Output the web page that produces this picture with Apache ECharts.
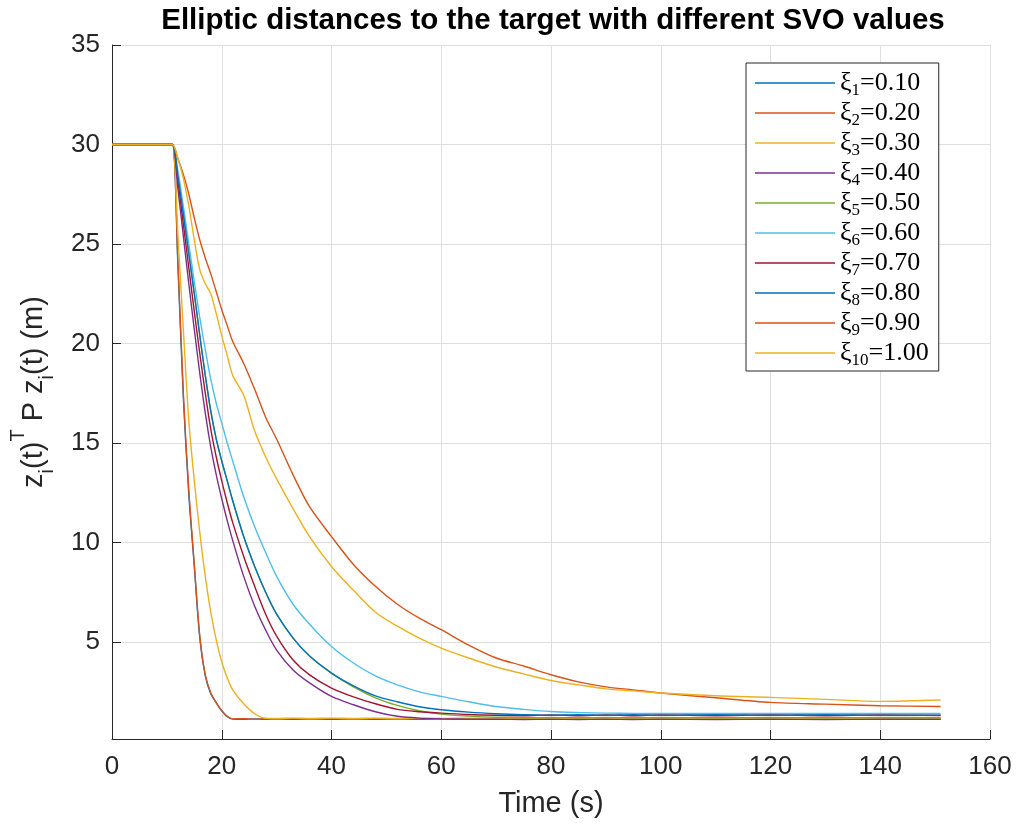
<!DOCTYPE html>
<html>
<head>
<meta charset="utf-8">
<script src="https://cdn.jsdelivr.net/npm/echarts@6/dist/echarts.min.js"></script>
<style>
html,body{margin:0;padding:0;background:#fff;}
#chart{width:1017px;height:825px;}
</style>
</head>
<body>
<div id="chart"></div>
<script>
// time samples (s)
const time = [0, 10, 11, 12, 13, 14, 15, 16, 17, 18, 19, 20, 21, 22, 24, 26, 28, 30, 33, 36, 40, 44, 48, 52, 56, 60, 65, 70, 75, 80, 85, 90, 95, 100, 110, 120, 130, 140, 151];

const svoValues = ['0.10', '0.20', '0.30', '0.40', '0.50', '0.60', '0.70', '0.80', '0.90', '1.00'];

const xi1 = [30, 30, 30, 24.0, 17.3, 12.4, 8.8, 5.2, 3.3, 2.4, 1.95, 1.55, 1.25, 1.13, 1.12, 1.14, 1.12, 1.14, 1.12, 1.14, 1.12, 1.14, 1.12, 1.14, 1.12, 1.14, 1.12, 1.14, 1.12, 1.14, 1.12, 1.14, 1.12, 1.14, 1.12, 1.14, 1.12, 1.14, 1.13];
const xi2 = [30, 30, 30, 24.2, 17.5, 12.6, 8.9, 5.3, 3.35, 2.45, 1.95, 1.55, 1.27, 1.14, 1.15, 1.13, 1.15, 1.13, 1.15, 1.13, 1.15, 1.13, 1.15, 1.13, 1.15, 1.13, 1.15, 1.13, 1.15, 1.13, 1.15, 1.13, 1.15, 1.13, 1.15, 1.13, 1.15, 1.13, 1.14];
const xi3 = [30, 30, 30, 25.5, 20.7, 16.1, 13.1, 10.5, 8.3, 6.5, 5.1, 4.0, 3.2, 2.6, 1.9, 1.4, 1.17, 1.16, 1.18, 1.16, 1.18, 1.16, 1.18, 1.16, 1.18, 1.16, 1.18, 1.16, 1.18, 1.16, 1.18, 1.16, 1.18, 1.16, 1.18, 1.16, 1.18, 1.16, 1.17];
const xi4 = [30, 30, 30, 27.8, 25.4, 23.0, 20.7, 18.5, 16.5, 14.8, 13.4, 12.2, 11.1, 10.1, 8.3, 6.8, 5.6, 4.6, 3.6, 2.95, 2.27, 1.85, 1.5, 1.27, 1.18, 1.15, 1.13, 1.12, 1.11, 1.12, 1.11, 1.12, 1.11, 1.12, 1.11, 1.12, 1.11, 1.12, 1.12];
const xi5 = [30, 30, 30, 28.4, 26.5, 24.5, 22.5, 20.4, 18.4, 16.6, 15.2, 14.1, 13.1, 12.1, 10.3, 8.8, 7.5, 6.4, 5.2, 4.3, 3.44, 2.75, 2.2, 1.82, 1.55, 1.38, 1.28, 1.22, 1.2, 1.21, 1.2, 1.21, 1.2, 1.21, 1.2, 1.21, 1.2, 1.21, 1.2];
const xi6 = [30, 30, 30, 28.7, 26.9, 25.0, 23.1, 21.3, 19.7, 18.2, 17.0, 16.0, 15.0, 14.1, 12.3, 10.8, 9.5, 8.3, 6.9, 5.9, 4.78, 3.95, 3.3, 2.85, 2.5, 2.27, 2.0, 1.76, 1.62, 1.51, 1.46, 1.43, 1.42, 1.42, 1.41, 1.42, 1.41, 1.42, 1.41];
const xi7 = [30, 30, 30, 28.2, 26.0, 23.8, 21.6, 19.5, 17.5, 15.7, 14.3, 13.1, 12.0, 11.0, 9.3, 7.8, 6.4, 5.3, 4.1, 3.35, 2.69, 2.25, 1.9, 1.62, 1.5, 1.43, 1.36, 1.32, 1.3, 1.34, 1.3, 1.34, 1.3, 1.34, 1.3, 1.34, 1.3, 1.34, 1.31];
const xi8 = [30, 30, 30, 28.4, 26.5, 24.5, 22.5, 20.4, 18.4, 16.6, 15.2, 14.1, 13.1, 12.1, 10.3, 8.8, 7.5, 6.4, 5.2, 4.3, 3.44, 2.8, 2.3, 2.0, 1.75, 1.6, 1.48, 1.4, 1.35, 1.32, 1.35, 1.32, 1.35, 1.32, 1.35, 1.32, 1.35, 1.32, 1.33];
const xi9 = [30, 30, 30, 29.3, 28.5, 27.5, 26.3, 25.2, 24.3, 23.5, 22.6, 21.7, 20.9, 20.1, 19.0, 17.7, 16.3, 15.2, 13.4, 11.8, 10.3, 8.9, 7.8, 6.9, 6.2, 5.62, 4.85, 4.2, 3.8, 3.36, 3.0, 2.75, 2.6, 2.44, 2.2, 1.97, 1.88, 1.8, 1.76];
const xi10 = [30, 30, 30, 29.3, 28.3, 26.9, 25.2, 23.7, 23.0, 22.5, 21.5, 20.4, 19.4, 18.4, 17.4, 15.6, 14.3, 13.2, 11.7, 10.3, 8.8, 7.6, 6.5, 5.8, 5.2, 4.7, 4.2, 3.75, 3.4, 3.07, 2.85, 2.65, 2.55, 2.44, 2.3, 2.22, 2.12, 2.02, 2.09];

const seriesValues = [xi1, xi2, xi3, xi4, xi5, xi6, xi7, xi8, xi9, xi10];
const colors = ['#0072BD', '#D95319', '#EDB120', '#7E2F8E', '#77AC30', '#4DBEEE', '#A2142F', '#0072BD', '#D95319', '#EDB120'];

const xTicks = [0, 20, 40, 60, 80, 100, 120, 140, 160];
const yTicks = [5, 10, 15, 20, 25, 30, 35];

const axisColor = '#262626';
const gridColor = '#dfdfdf';
const sans = 'Liberation Sans, Arial, sans-serif';
const serif = 'Liberation Serif, serif';

const series = seriesValues.map(function (vals, i) {
  return {
    name: 'xi' + (i + 1) + '=' + svoValues[i],
    type: 'line',
    symbol: 'none',
    smooth: 0.3,
    lineStyle: { width: 1.4, color: colors[i] },
    itemStyle: { color: colors[i] },
    data: time.map(function (t, k) { return [t, vals[k]]; })
  };
});

const chart = echarts.init(document.getElementById('chart'), null, { renderer: 'canvas' });
chart.setOption({
  animation: false,
  backgroundColor: '#fff',
  title: {
    text: 'Elliptic distances to the target with different SVO values',
    left: 548,
    textAlign: 'center',
    top: 1,
    textStyle: { fontFamily: sans, fontWeight: 'bold', fontSize: 29.5, color: '#000' }
  },
  grid: { left: 110, right: 27, top: 45, bottom: 86, containLabel: false },
  legend: {
    orient: 'vertical',
    left: 746,
    top: 63,
    padding: [7, 10, 2, 9],
    icon: 'path://M0,0 L160,0 L160,3 L0,3 Z',
    itemWidth: 80,
    itemHeight: 1.5,
    itemGap: 1,
    backgroundColor: '#fff',
    borderColor: axisColor,
    borderWidth: 1,
    borderRadius: 0,
    data: series.map(function (s) { return s.name; }),
    formatter: function (name) {
      const m = name.match(/^xi(\d+)=(.*)$/);
      return '{g|ξ}{s|' + m[1] + '}{g|=' + m[2] + '}';
    },
    textStyle: {
      fontFamily: serif,
      fontSize: 26,
      lineHeight: 22,
      color: '#000',
      rich: {
        g: { fontFamily: serif, fontSize: 26, lineHeight: 22, color: '#000' },
        s: { fontFamily: serif, fontSize: 17, lineHeight: 22, color: '#000', verticalAlign: 'bottom', padding: [0, 0, -5, 0] }
      }
    }
  },
  xAxis: {
    type: 'value',
    min: 0,
    max: 160,
    interval: 20,
    name: 'Time (s)',
    nameLocation: 'middle',
    nameGap: 50,
    nameTextStyle: { fontFamily: sans, fontSize: 29, color: axisColor },
    axisLine: { show: true, onZero: false, lineStyle: { color: axisColor, width: 1 } },
    axisTick: { show: true, inside: true, length: 9, lineStyle: { color: axisColor, width: 1 } },
    axisLabel: {
      margin: 15,
      fontFamily: sans, fontSize: 26, color: axisColor,
      formatter: function (v) { return xTicks.indexOf(v) >= 0 ? String(v) : ''; }
    },
    splitLine: { show: true, lineStyle: { color: gridColor, width: 1 } }
  },
  yAxis: {
    type: 'value',
    min: 0.13,
    max: 35,
    splitNumber: 7,
    minInterval: 5,
    maxInterval: 5,
    name: 'z{sub|i}(t){sup|T} P z{sub|i}(t) (m)',
    nameLocation: 'middle',
    nameRotate: 90,
    nameGap: 52,
    nameTextStyle: {
      fontFamily: sans, fontSize: 29, color: axisColor, lineHeight: 52,
      rich: {
        sub: { fontFamily: sans, fontSize: 20, color: axisColor, verticalAlign: 'bottom', lineHeight: 52, padding: [0, 0, 3, 0] },
        sup: { fontFamily: sans, fontSize: 20, color: axisColor, verticalAlign: 'top', lineHeight: 52 }
      }
    },
    axisLine: { show: true, onZero: false, lineStyle: { color: axisColor, width: 1 } },
    axisTick: { show: true, inside: true, length: 9, lineStyle: { color: axisColor, width: 1 } },
    axisLabel: {
      margin: 12,
      fontFamily: sans, fontSize: 26, color: axisColor,
      formatter: function (v) {
        const r = Math.round(v);
        return (Math.abs(v - r) < 1e-6 && yTicks.indexOf(r) >= 0) ? String(r) : '';
      }
    },
    splitLine: { show: true, lineStyle: { color: gridColor, width: 1 } }
  },
  series: series
});
</script>
</body>
</html>
